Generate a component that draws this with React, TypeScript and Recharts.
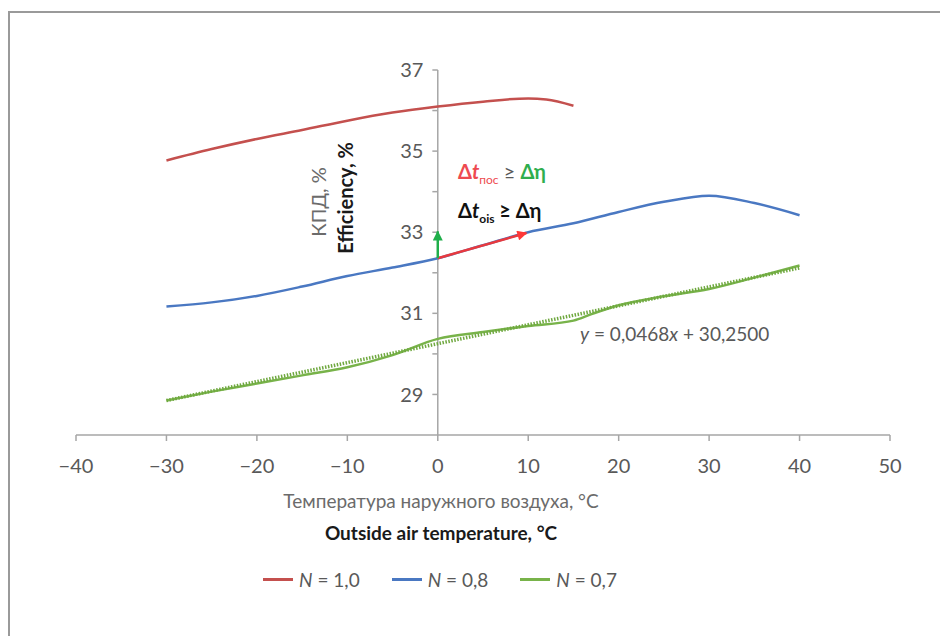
import React from 'react';
import { LineChart, Line, XAxis, YAxis, ReferenceLine, Legend } from 'recharts';

// ============================================================================
// Data
// ============================================================================

const TEMPS_N10 = [-30, -25, -20, -15, -10, -5, 0, 5, 10, 12, 15];
const EFF_N10 = [34.77, 35.05, 35.3, 35.52, 35.75, 35.95, 36.1, 36.22, 36.3, 36.27, 36.12];

const TEMPS_N08 = [-30, -25, -20, -15, -10, -5, 0, 5, 10, 15, 20, 25, 30, 35, 40];
const EFF_N08 = [31.17, 31.27, 31.43, 31.66, 31.92, 32.13, 32.36, 32.68, 33.0, 33.22, 33.5, 33.75, 33.9, 33.72, 33.42];

const TEMPS_N07 = [-30, -25, -20, -15, -10, -5, 0, 5, 10, 15, 17, 20, 25, 30, 35, 40];
const EFF_N07 = [28.85, 29.07, 29.27, 29.47, 29.67, 29.97, 30.37, 30.54, 30.69, 30.82, 30.98, 31.2, 31.42, 31.6, 31.88, 32.18];

// linear trend of N = 0.7 (endpoints)
const TREND_TEMPS = [-30, 40];
const TREND_EFF = [28.85, 32.12];

const X_TICKS = [-40, -30, -20, -10, 0, 10, 20, 30, 40, 50];
const Y_TICKS = [29, 30, 31, 32, 33, 34, 35, 36, 37];
const Y_LABELED = [29, 31, 33, 35, 37];

// arrows: temperature step along N = 0.8 and efficiency step at 0 °C
const ARROW_T_FROM = { x: 0, y: 32.36 };
const ARROW_T_TO = { x: 9.8, y: 32.98 };
const ARROW_ETA_TO = { x: 0, y: 33.02 };

const SERIES_NAMES = ['1,0', '0,8', '0,7'];

// ============================================================================
// Styling
// ============================================================================

const FONT = "Lato, 'DejaVu Sans Condensed', sans-serif";
const AXIS_GRAY = '#a6a6a6';
const TEXT_GRAY = '#595959';
const RED = '#c4504e';
const BLUE = '#4a78c2';
const GREEN = '#78b34a';
const SERIES_COLORS = [RED, BLUE, GREEN];

const zip = (xs: number[], ys: number[]) => xs.map((t, i) => ({ t, eff: ys[i] }));

const dataN10 = zip(TEMPS_N10, EFF_N10);
const dataN08 = zip(TEMPS_N08, EFF_N08);
const dataN07 = zip(TEMPS_N07, EFF_N07);
const dataTrend = zip(TREND_TEMPS, TREND_EFF);

const formatTemp = (v: number) => (v < 0 ? `\u2212${Math.abs(v)}` : String(v));

function LegendContent() {
  return (
    <div style={{ display: 'flex', justifyContent: 'center', gap: 32, fontSize: 19, color: TEXT_GRAY }}>
      {SERIES_NAMES.map((name, i) => (
        <div key={name} style={{ display: 'flex', alignItems: 'center' }}>
          <span style={{ display: 'inline-block', width: 30, height: 3, background: SERIES_COLORS[i], marginRight: 6 }} />
          <span>
            <i>N</i> = {name}
          </span>
        </div>
      ))}
    </div>
  );
}

export default function App() {
  return (
    <div style={{ position: 'absolute', left: 0, top: 0, width: 940, height: 636, background: '#fff', fontFamily: FONT, overflow: 'hidden' }}>
      {/* frame */}
      <div style={{ position: 'absolute', left: 8, top: 11, width: 960, height: 660, borderLeft: '2px solid #9a9a9a', borderTop: '2px solid #9a9a9a' }} />

      <LineChart width={940} height={636} margin={{ top: 70, right: 50, left: 76, bottom: 171 }}>
        <defs>
          <marker id="arrowRed" viewBox="0 0 10 10" refX="9" refY="5" markerWidth="5" markerHeight="4" orient="auto" markerUnits="strokeWidth">
            <path d="M0,0 L10,5 L0,10 z" fill="#ff3838" />
          </marker>
          <marker id="arrowGreen" viewBox="0 0 10 10" refX="9" refY="5" markerWidth="5" markerHeight="4" orient="auto" markerUnits="strokeWidth">
            <path d="M0,0 L10,5 L0,10 z" fill="#1fae4a" />
          </marker>
        </defs>
        <XAxis
          type="number"
          dataKey="t"
          domain={[-40, 50]}
          ticks={X_TICKS}
          allowDataOverflow
          height={30}
          tickFormatter={formatTemp}
          tick={{ fill: TEXT_GRAY, fontSize: 20 }}
          tickSize={6}
          tickMargin={18}
          axisLine={{ stroke: AXIS_GRAY, strokeWidth: 1.5 }}
          tickLine={{ stroke: AXIS_GRAY, strokeWidth: 1.5 }}
        />
        <YAxis type="number" dataKey="eff" domain={[28, 37]} allowDataOverflow hide />

        {/* vertical axis drawn at 0 °C */}
        <ReferenceLine x={0} stroke={AXIS_GRAY} strokeWidth={1.5} />
        {Y_TICKS.map((v) => (
          <ReferenceLine
            key={`yt-${v}`}
            segment={[{ x: -0.6, y: v }, { x: 0, y: v }]}
            stroke={AXIS_GRAY}
            strokeWidth={1.5}
            label={
              Y_LABELED.includes(v)
                ? { value: String(v), position: 'left', offset: 9, fill: TEXT_GRAY, fontSize: 20 }
                : undefined
            }
          />
        ))}

        <Line data={dataN10} dataKey="eff" name={SERIES_NAMES[0]} type="monotone" stroke={RED} strokeWidth={2.5} dot={false} isAnimationActive={false} />
        <Line data={dataN08} dataKey="eff" name={SERIES_NAMES[1]} type="monotone" stroke={BLUE} strokeWidth={2.5} dot={false} isAnimationActive={false} />
        <Line data={dataN07} dataKey="eff" name={SERIES_NAMES[2]} type="monotone" stroke={GREEN} strokeWidth={2.5} dot={false} isAnimationActive={false} />
        <Line data={dataTrend} dataKey="eff" name="trend" legendType="none" type="linear" stroke="#6fa83f" strokeWidth={3.5} strokeDasharray="1.5 1.5" dot={false} isAnimationActive={false} />

        <ReferenceLine segment={[ARROW_T_FROM, ARROW_T_TO]} stroke="#e8393e" strokeWidth={2.5} markerEnd="url(#arrowRed)" />
        <ReferenceLine segment={[ARROW_T_FROM, ARROW_ETA_TO]} stroke="#1fae4a" strokeWidth={2.5} markerEnd="url(#arrowGreen)" />

        <Legend
          verticalAlign="middle"
          content={<LegendContent />}
          wrapperStyle={{ top: 568, left: 0, width: 880 }}
        />
      </LineChart>

      {/* y-axis titles */}
      <div style={{ position: 'absolute', left: 318, top: 202, transform: 'translate(-50%, -50%) rotate(-90deg)', whiteSpace: 'nowrap', fontSize: 20, color: '#6b6b6b' }}>
        КПД, %
      </div>
      <div style={{ position: 'absolute', left: 345, top: 198, transform: 'translate(-50%, -50%) rotate(-90deg)', whiteSpace: 'nowrap', fontSize: 20, fontWeight: 'bold', color: '#1a1a1a' }}>
        Efficiency, %
      </div>

      {/* x-axis titles */}
      <div style={{ position: 'absolute', left: 0, width: 882, top: 489, textAlign: 'center', fontSize: 19, color: '#6b6b6b' }}>
        Температура наружного воздуха, °С
      </div>
      <div style={{ position: 'absolute', left: 0, width: 882, top: 521, textAlign: 'center', fontSize: 19, fontWeight: 'bold', color: '#1a1a1a' }}>
        Outside air temperature, °C
      </div>

      {/* annotations */}
      <div style={{ position: 'absolute', left: 458, top: 156, fontSize: 20, whiteSpace: 'nowrap', lineHeight: '30px' }}>
        <div>
          <span style={{ color: '#ee4a50', fontWeight: 'bold' }}>
            Δ<i>t</i>
            <sub style={{ fontSize: 12, fontWeight: 'normal' }}>пос</sub>
          </span>
          <span style={{ color: TEXT_GRAY }}> ≥ </span>
          <span style={{ color: '#2fae4e', fontWeight: 'bold' }}>Δη</span>
        </div>
        <div style={{ color: '#111', fontWeight: 'bold' }}>
          Δ<i>t</i>
          <sub style={{ fontSize: 12 }}>ois</sub> ≥ Δη
        </div>
      </div>

      {/* regression equation */}
      <div style={{ position: 'absolute', left: 580, top: 322, fontSize: 19, color: TEXT_GRAY, whiteSpace: 'nowrap' }}>
        <i>y</i> = 0,0468<i>x</i> + 30,2500
      </div>
    </div>
  );
}
